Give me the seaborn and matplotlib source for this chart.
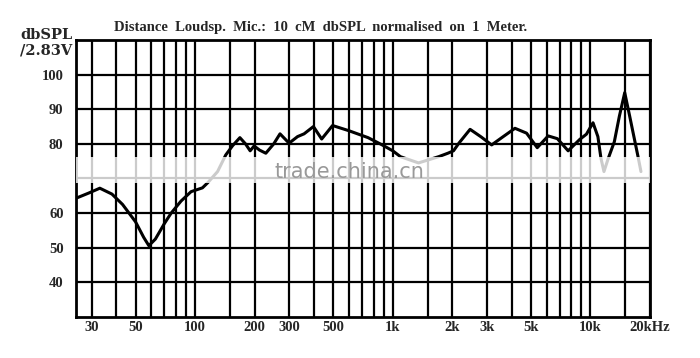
"""
Loudspeaker frequency response (dbSPL / 2.83V), log frequency axis
"""
import numpy as np
import pandas as pd
import matplotlib
matplotlib.use("Agg")
import matplotlib.pyplot as plt
import seaborn as sns

# Response curve (Hz, dB)
freq_hz = [25, 29, 33, 38, 43, 50, 55, 58.4, 63, 70, 75.7, 85, 95.5, 109, 116,
           130, 143, 155, 168.6, 180, 190, 199, 212, 228, 250, 269, 299, 330, 356,
           397, 437, 496, 600, 750, 884, 1000, 1094, 1350, 1706, 1900, 2029,
           2160, 2461, 2800, 3163, 3600, 4150, 4750, 5380, 6110, 6800, 7710,
           8830, 9540, 10300, 10900, 11300, 11700, 12300, 13200, 14000, 14900,
           15800, 17400, 18000]
spl_db = [64.3, 65.8, 67.2, 65.5, 62.5, 57.5, 53.0, 50.6, 52.5, 57.0, 60.0, 63.5,
          66.2, 67.3, 68.8, 72.0, 76.8, 79.5, 81.8, 80.0, 78.0, 79.4, 78.2, 77.3,
          80.0, 82.9, 80.2, 82.1, 82.9, 85.0, 81.4, 85.3, 83.8, 81.8, 79.7, 78.0,
          76.3, 74.5, 76.3, 77.3, 78.0, 80.2, 84.2, 82.0, 79.7, 82.0, 84.5, 83.1,
          78.9, 82.3, 81.5, 78.0, 81.3, 82.8, 86.1, 82.1, 75.8, 72.0, 75.8, 80.6,
          88.0, 94.8, 87.9, 76.3, 72.0]

grid_freqs = [30, 40, 50, 60, 70, 80, 90, 100, 150, 200, 300, 400, 500, 600, 700,
              800, 900, 1000, 1500, 2000, 3000, 4000, 5000, 6000, 7000, 8000, 9000,
              10000, 15000, 20000]
freq_labels = {30: "30", 50: "50", 100: "100", 200: "200", 300: "300", 500: "500",
               1000: "1k", 2000: "2k", 3000: "3k", 5000: "5k", 10000: "10k",
               20000: "20kHz"}
db_ticks = [40, 50, 60, 70, 80, 90, 100]
db_labels = ["40", "50", "60", "", "80", "90", "100"]

df = pd.DataFrame({"freq": freq_hz, "spl": spl_db})

sns.set_style("white")
font = {"family": "Liberation Serif", "weight": "bold"}

fig = plt.figure(figsize=(7.0, 3.58), dpi=100)
ax = fig.add_axes([76 / 700, 41 / 358, 574 / 700, 277 / 358])

sns.lineplot(data=df, x="freq", y="spl", color="black", linewidth=2.2, ax=ax, zorder=3)

ax.set_xscale("log")
ax.set_xlim(25, 20000)
ax.set_ylim(30, 110)
ax.minorticks_off()

ax.set_xticks(grid_freqs)
ax.set_xticklabels([freq_labels.get(f, "") for f in grid_freqs], fontdict=font, fontsize=10.5)
ax.set_yticks(db_ticks)
ax.set_yticklabels(db_labels, fontdict=font, fontsize=10.5)
ax.tick_params(axis="y", length=0, pad=9)
ax.tick_params(axis="x", length=0, pad=3)
ax.grid(True, color="black", linewidth=1.6)
ax.set_xlabel("")
ax.set_ylabel("")
for s in ax.spines.values():
    s.set_color("black")
    s.set_linewidth(2)

# watermark band (blurred strip across the chart)
ax.axhspan(68.6, 76.3, color="white", alpha=0.8, zorder=4, linewidth=0)
ax.text(0.346, 0.525, "trade.china.cn", transform=ax.transAxes, color="#999999",
        fontsize=15, family="DejaVu Sans", ha="left", va="center", zorder=5)

fig.text(114 / 700, 1 - 27 / 358, "Distance  Loudsp.  Mic.:  10  cM  dbSPL  normalised  on  1  Meter.",
         fontdict=font, fontsize=10.5, ha="left", va="center")
fig.text(20 / 700, 1 - 35 / 358, "dbSPL", family="DejaVu Serif", weight="bold",
         fontsize=10.5, ha="left", va="center")
fig.text(20 / 700, 1 - 50 / 358, "/2.83V", family="DejaVu Serif", weight="bold",
         fontsize=10.5, ha="left", va="center")

fig.savefig("out.png", dpi=100)
